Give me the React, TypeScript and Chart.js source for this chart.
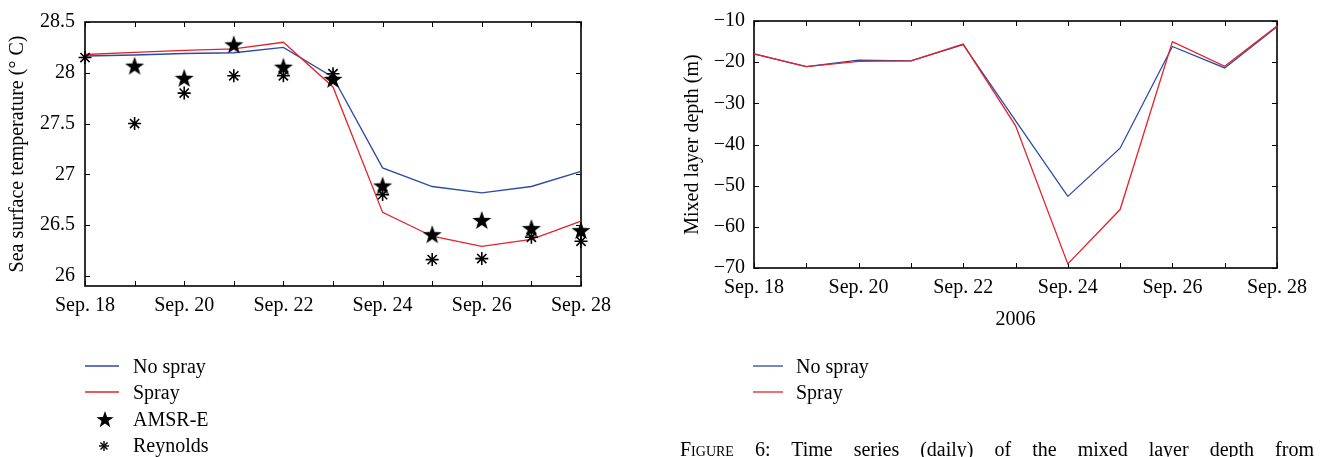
import React, { useEffect, useRef } from "react";
import { Chart, registerables } from "chart.js";

Chart.register(...registerables);

// Daily axis, 18–28 September 2006
const days = [
  "Sep. 18", "Sep. 19", "Sep. 20", "Sep. 21", "Sep. 22", "Sep. 23",
  "Sep. 24", "Sep. 25", "Sep. 26", "Sep. 27", "Sep. 28",
];

// Sea surface temperature (°C)
const sstNoSpray = [28.165, 28.175, 28.19, 28.197, 28.25, 27.957, 27.063, 26.88, 26.817, 26.88, 27.03];
const sstSpray = [28.18, 28.2, 28.22, 28.235, 28.3, 27.86, 26.625, 26.39, 26.29, 26.36, 26.54];
const sstAmsrE = [null, 28.07, 27.95, 28.28, 28.06, 27.94, 26.89, 26.41, 26.55, 26.47, 26.45];
const sstReynolds = [28.15, 27.5, 27.8, 27.97, 27.97, 27.99, 26.8, 26.16, 26.17, 26.38, 26.34];
const sstTicks = [26, 26.5, 27, 27.5, 28, 28.5];

// Mixed layer depth (m)
const mldNoSpray = [-18.0, -21.1, -19.5, -19.7, -15.75, -34.2, -52.6, -40.9, -16.2, -21.4, -11.4];
const mldSpray = [-18.0, -21.1, -19.8, -19.7, -15.6, -35.4, -69.0, -55.8, -15.0, -21.0, -11.2];
const mldTicks = [-70, -60, -50, -40, -30, -20, -10];

const FONT = '"Liberation Serif", "Times New Roman", serif';
const BLUE = "#2b4aa6";
const RED = "#e42228";

function starPoints(cx: number, cy: number, R: number, ratio = 0.4) {
  const pts: [number, number][] = [];
  for (let i = 0; i < 10; i++) {
    const ang = -Math.PI / 2 + (i * Math.PI) / 5;
    const rad = i % 2 === 0 ? R : R * ratio;
    pts.push([cx + rad * Math.cos(ang), cy + rad * Math.sin(ang)]);
  }
  return pts;
}

function makeStarImage(size: number, color: string) {
  const c = document.createElement("canvas");
  c.width = size;
  c.height = size;
  const ctx = c.getContext("2d")!;
  const R = size / 2;
  const pts = starPoints(size / 2, size / 2 + R * 0.1, R);
  ctx.beginPath();
  pts.forEach(([x, y], i) => (i ? ctx.lineTo(x, y) : ctx.moveTo(x, y)));
  ctx.closePath();
  ctx.fillStyle = color;
  ctx.fill();
  return c;
}

// Box frame with inward tick marks on all four sides
const frameTicks = {
  id: "frameTicks",
  beforeDatasetsDraw(chart: any) {
    const { ctx, chartArea } = chart;
    const { left, right, top, bottom } = chartArea;
    const xs = chart.scales.x;
    const ys = chart.scales.y;
    const len = 5;
    ctx.save();
    ctx.strokeStyle = "#000";
    ctx.lineWidth = 1;
    ctx.beginPath();
    for (let i = 0; i < xs.ticks.length; i++) {
      const px = Math.round(xs.getPixelForTick(i)) + 0.5;
      ctx.moveTo(px, bottom);
      ctx.lineTo(px, bottom - len);
      ctx.moveTo(px, top);
      ctx.lineTo(px, top + len);
    }
    for (let i = 0; i < ys.ticks.length; i++) {
      const py = Math.round(ys.getPixelForTick(i)) + 0.5;
      ctx.moveTo(left, py);
      ctx.lineTo(left + len, py);
      ctx.moveTo(right, py);
      ctx.lineTo(right - len, py);
    }
    ctx.stroke();
    ctx.lineWidth = 1.6;
    ctx.strokeRect(left, top, right - left, bottom - top);
    ctx.restore();
  },
};

const minus = (v: number) => (v < 0 ? "\u2212" + Math.abs(v) : String(v));

function xScale(h: number, titleText?: string) {
  return {
    type: "category" as const,
    offset: false,
    grid: { display: false, drawTicks: false },
    border: { display: false },
    ticks: {
      autoSkip: false,
      maxRotation: 0,
      padding: 8,
      color: "#000",
      font: { family: FONT, size: 20 },
      callback: (_v: any, i: number) => (i % 2 === 0 ? days[i] : ""),
    },
    title: titleText
      ? { display: true, text: titleText, color: "#000", font: { family: FONT, size: 20 }, padding: { top: 0, bottom: 8 } }
      : { display: false },
    afterFit: (s: any) => {
      s.height = h;
    },
  };
}

function yScale(min: number, max: number, ticks: number[], w: number, titleText: string, titlePad: number, pad: number, fmt: (v: number) => string) {
  return {
    type: "linear" as const,
    min,
    max,
    grid: { display: false, drawTicks: false },
    border: { display: false },
    afterBuildTicks: (s: any) => {
      s.ticks = ticks.map((v) => ({ value: v }));
    },
    ticks: {
      padding: pad,
      color: "#000",
      font: { family: FONT, size: 20 },
      callback: (v: any) => fmt(Number(v)),
    },
    title: { display: true, text: titleText, color: "#000", font: { family: FONT, size: 20 }, padding: { top: titlePad, bottom: 0 } },
    afterFit: (s: any) => {
      s.width = w;
    },
  };
}

function SstChart() {
  const ref = useRef<HTMLCanvasElement>(null);
  useEffect(() => {
    const star = makeStarImage(20, "#000");
    const chart = new Chart(ref.current!, {
      type: "line",
      data: {
        labels: days,
        datasets: [
          { label: "Reynolds", data: sstReynolds, showLine: false, pointStyle: "star", pointRadius: 6.5, pointBorderWidth: 1.6, borderColor: "#000", backgroundColor: "#000", order: 0, clip: false } as any,
          { label: "AMSR-E", data: sstAmsrE, showLine: false, pointStyle: star, borderColor: "#000", backgroundColor: "#000", order: 1, clip: false } as any,
          { label: "Spray", data: sstSpray, borderColor: RED, borderWidth: 1.3, pointRadius: 0, order: 2, clip: false } as any,
          { label: "No spray", data: sstNoSpray, borderColor: BLUE, borderWidth: 1.3, pointRadius: 0, order: 3, clip: false } as any,
        ],
      },
      options: {
        responsive: false,
        animation: false,
        layout: { padding: { left: 0, right: 39, top: 15, bottom: 0 } },
        plugins: { legend: { display: false }, tooltip: { enabled: false } },
        scales: {
          x: xScale(330 - 286),
          y: yScale(25.9, 28.5, sstTicks, 85, "Sea surface temperature (\u00b0 C)", 6, 10, (v) => String(v)),
        },
      } as any,
      plugins: [frameTicks],
    });
    return () => chart.destroy();
  }, []);
  return <canvas ref={ref} width={620} height={330} style={{ position: "absolute", left: 0, top: 0 }} />;
}

function MldChart() {
  const ref = useRef<HTMLCanvasElement>(null);
  useEffect(() => {
    const chart = new Chart(ref.current!, {
      type: "line",
      data: {
        labels: days,
        datasets: [
          { label: "Spray", data: mldSpray, borderColor: RED, borderWidth: 1.3, pointRadius: 0, order: 0, clip: false } as any,
          { label: "No spray", data: mldNoSpray, borderColor: BLUE, borderWidth: 1.3, pointRadius: 0, order: 1, clip: false } as any,
        ],
      },
      options: {
        responsive: false,
        animation: false,
        layout: { padding: { left: 0, right: 44, top: 17, bottom: 0 } },
        plugins: { legend: { display: false }, tooltip: { enabled: false } },
        scales: {
          x: xScale(340 - 268, "2006"),
          y: yScale(-70, -10, mldTicks, 94, "Mixed layer depth (m)", 21, 9, minus),
        },
      } as any,
      plugins: [frameTicks],
    });
    return () => chart.destroy();
  }, []);
  return <canvas ref={ref} width={661} height={340} style={{ position: "absolute", left: 660, top: 0 }} />;
}

function Asterisk({ cx, cy, r }: { cx: number; cy: number; r: number }) {
  const d = r * Math.SQRT1_2;
  return (
    <g stroke="#000" strokeWidth={1.4}>
      <line x1={cx - r} y1={cy} x2={cx + r} y2={cy} />
      <line x1={cx} y1={cy - r} x2={cx} y2={cy + r} />
      <line x1={cx - d} y1={cy - d} x2={cx + d} y2={cy + d} />
      <line x1={cx - d} y1={cy + d} x2={cx + d} y2={cy - d} />
    </g>
  );
}

function Legends() {
  const txt = { fontFamily: FONT, fontSize: 20, fill: "#000" };
  const star = starPoints(105, 420, 9).map((p) => p.join(",")).join(" ");
  return (
    <svg width={1321} height={457} style={{ position: "absolute", left: 0, top: 0, pointerEvents: "none" }}>
      <line x1={85} x2={119} y1={366} y2={366} stroke={BLUE} strokeWidth={1.3} />
      <text x={133} y={373} {...txt}>No spray</text>
      <line x1={85} x2={119} y1={392} y2={392} stroke={RED} strokeWidth={1.3} />
      <text x={133} y={399} {...txt}>Spray</text>
      <polygon points={star} fill="#000" />
      <text x={133} y={426} {...txt}>AMSR-E</text>
      <Asterisk cx={104} cy={446} r={5} />
      <text x={133} y={452} {...txt}>Reynolds</text>

      <line x1={753} x2={783} y1={366} y2={366} stroke={BLUE} strokeWidth={1.3} />
      <text x={796} y={373} {...txt}>No spray</text>
      <line x1={753} x2={783} y1={392} y2={392} stroke={RED} strokeWidth={1.3} />
      <text x={796} y={399} {...txt}>Spray</text>
    </svg>
  );
}

export default function App() {
  return (
    <div style={{ position: "absolute", left: 0, top: 0, width: 1321, height: 457, overflow: "hidden", background: "#fff", fontFamily: FONT }}>
      <SstChart />
      <MldChart />
      <Legends />
      <div
        style={{
          position: "absolute",
          left: 680,
          top: 437,
          width: 634,
          fontSize: 20,
          lineHeight: "24px",
          color: "#000",
          textAlign: "justify",
          textAlignLast: "justify",
          whiteSpace: "normal",
        }}
      >
        <span style={{ fontVariant: "small-caps" }}>Figure</span> 6: Time series (daily) of the mixed layer depth from
      </div>
    </div>
  );
}
